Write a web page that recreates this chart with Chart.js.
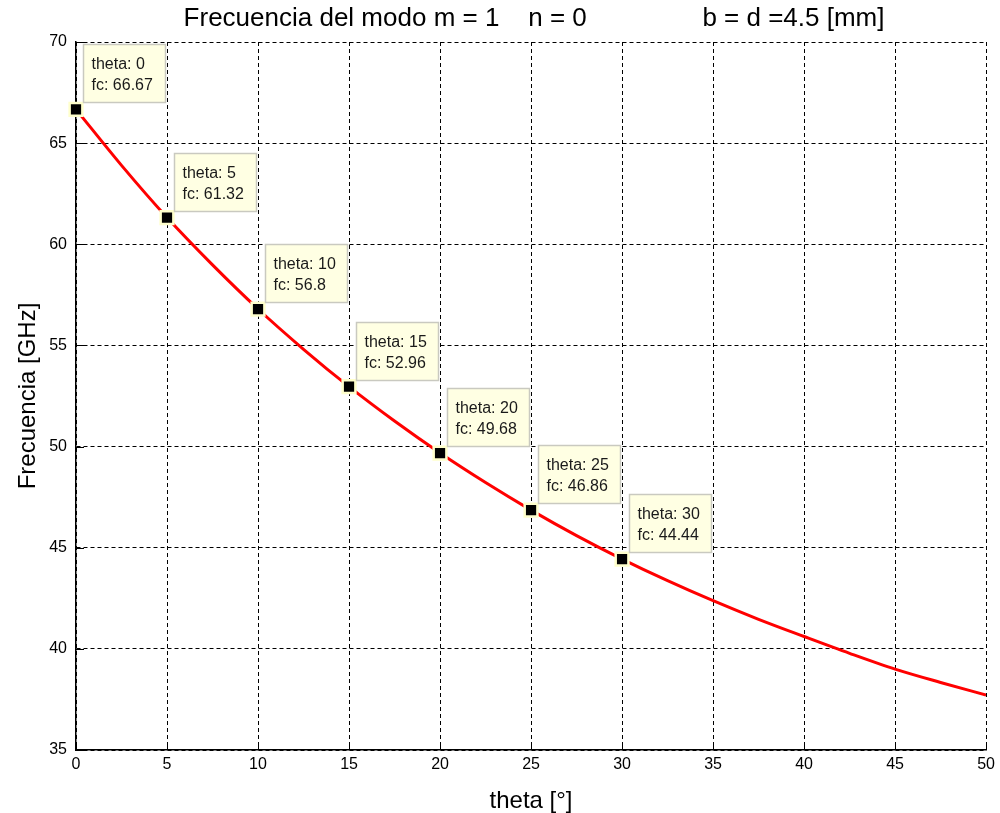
<!DOCTYPE html>
<html>
<head>
<meta charset="utf-8">
<script src="https://cdn.jsdelivr.net/npm/chart.js@4/dist/chart.umd.min.js"></script>
<style>
  html, body { margin: 0; background: #fff; }
  #wrap { width: 1000px; height: 813px; }
</style>
</head>
<body>
<div id="wrap"><canvas id="fcChart"></canvas></div>
<script>
// curve
const thetaCurve = [0, 2.5, 5, 7.5, 10, 12.5, 15, 17.5, 20, 22.5, 25, 27.5, 30, 32.5, 35, 37.5, 40, 42.5, 45, 47.5, 50];
const fcCurve = [66.67, 63.9, 61.32, 58.98, 56.8, 54.81, 52.96, 51.26, 49.68, 48.22, 46.86, 45.6, 44.44, 43.37, 42.38, 41.46, 40.61, 39.78, 39.0, 38.34, 37.72];

// data tips
const tipTheta = [0, 5, 10, 15, 20, 25, 30];
const tipFc = [66.67, 61.32, 56.8, 52.96, 49.68, 46.86, 44.44];

const titleText = 'Frecuencia del modo m = 1    n = 0                b = d =4.5 [mm]';
const FONT = '"Liberation Sans", Arial, Helvetica, sans-serif';

// title over the axes
const titlePlugin = {
  id: 'plotTitle',
  afterDraw(chart) {
    const ctx = chart.ctx;
    const area = chart.chartArea;
    ctx.save();
    ctx.font = '26px ' + FONT;
    ctx.fillStyle = '#000';
    ctx.textAlign = 'center';
    ctx.textBaseline = 'middle';
    ctx.fillText(titleText, (area.left + area.right) / 2 + 3, 19);
    ctx.restore();
  }
};

// small inward ticks on left and bottom axes
const innerTicks = {
  id: 'innerTicks',
  afterDatasetsDraw(chart) {
    const ctx = chart.ctx;
    const area = chart.chartArea;
    const xs = chart.scales.x, ys = chart.scales.y;
    ctx.save();
    ctx.strokeStyle = '#000';
    ctx.lineWidth = 1;
    ctx.beginPath();
    xs.ticks.forEach(t => {
      const px = Math.round(xs.getPixelForValue(t.value)) + 0.5;
      ctx.moveTo(px, area.bottom);
      ctx.lineTo(px, area.bottom - 8);
    });
    ys.ticks.forEach(t => {
      const py = Math.round(ys.getPixelForValue(t.value)) + 0.5;
      ctx.moveTo(area.left, py);
      ctx.lineTo(area.left + 8, py);
    });
    ctx.stroke();
    ctx.restore();
  }
};

// MATLAB style data tip boxes
const dataTips = {
  id: 'dataTips',
  afterDatasetsDraw(chart) {
    const ctx = chart.ctx;
    const xs = chart.scales.x, ys = chart.scales.y;
    ctx.save();
    ctx.font = '16px ' + FONT;
    ctx.textBaseline = 'alphabetic';
    tipTheta.forEach((th, i) => {
      const px = xs.getPixelForValue(th);
      const py = ys.getPixelForValue(tipFc[i]);
      const bx = Math.round(px + 7) + 0.5;
      const by = Math.round(py - 65) + 0.5;
      ctx.fillStyle = '#ffffe3';
      ctx.strokeStyle = '#c9c9c0';
      ctx.lineWidth = 1.5;
      ctx.fillRect(bx, by, 82, 58);
      ctx.strokeRect(bx, by, 82, 58);
      ctx.fillStyle = '#1a1a1a';
      ctx.fillText('theta: ' + th, bx + 8, by + 24);
      ctx.fillText('fc: ' + tipFc[i], bx + 8, by + 45);
    });
    ctx.restore();
  }
};

const ctx = document.getElementById('fcChart').getContext('2d');
new Chart(ctx, {
  type: 'line',
  data: {
    datasets: [
      {
        label: 'fc',
        data: thetaCurve.map((t, i) => ({ x: t, y: fcCurve[i] })),
        borderColor: '#ff0000',
        borderWidth: 3,
        pointRadius: 0,
        cubicInterpolationMode: 'monotone',
        fill: false,
        order: 1
      },
      {
        label: 'tips',
        data: tipTheta.map((t, i) => ({ x: t, y: tipFc[i] })),
        showLine: false,
        clip: false,
        pointStyle: 'rect',
        pointRadius: 9,
        pointBackgroundColor: '#000',
        pointBorderColor: '#ffffcc',
        pointBorderWidth: 2.5,
        order: 0
      }
    ]
  },
  options: {
    responsive: true,
    maintainAspectRatio: false,
    animation: false,
    layout: { padding: { top: 42, right: 12, left: 0, bottom: 0 } },
    scales: {
      x: {
        type: 'linear',
        min: 0,
        max: 50,
        afterFit: s => { s.height = 63; },
        ticks: {
          stepSize: 5,
          padding: 5,
          color: '#000',
          font: { family: FONT, size: 16 }
        },
        grid: { color: '#000', lineWidth: 1, drawTicks: false },
        border: { display: true, color: '#000', width: 1.5, dash: [4, 3] },
        title: {
          display: true,
          text: 'theta [°]',
          color: '#000',
          font: { family: FONT, size: 24, lineHeight: 1 },
          padding: { top: 1, bottom: 0 }
        }
      },
      y: {
        min: 35,
        max: 70,
        afterFit: s => { s.width = 76; },
        ticks: {
          stepSize: 5,
          padding: 9,
          color: '#000',
          font: { family: FONT, size: 16 }
        },
        grid: { color: '#000', lineWidth: 1, drawTicks: false },
        border: { display: true, color: '#000', width: 1.5, dash: [4, 3] },
        title: {
          display: true,
          text: 'Frecuencia [GHz]',
          color: '#000',
          font: { family: FONT, size: 24, lineHeight: 1 },
          padding: { top: 16, bottom: 0 }
        }
      }
    },
    plugins: {
      legend: { display: false },
      tooltip: { enabled: false }
    }
  },
  plugins: [titlePlugin, innerTicks, dataTips]
});
</script>
</body>
</html>
